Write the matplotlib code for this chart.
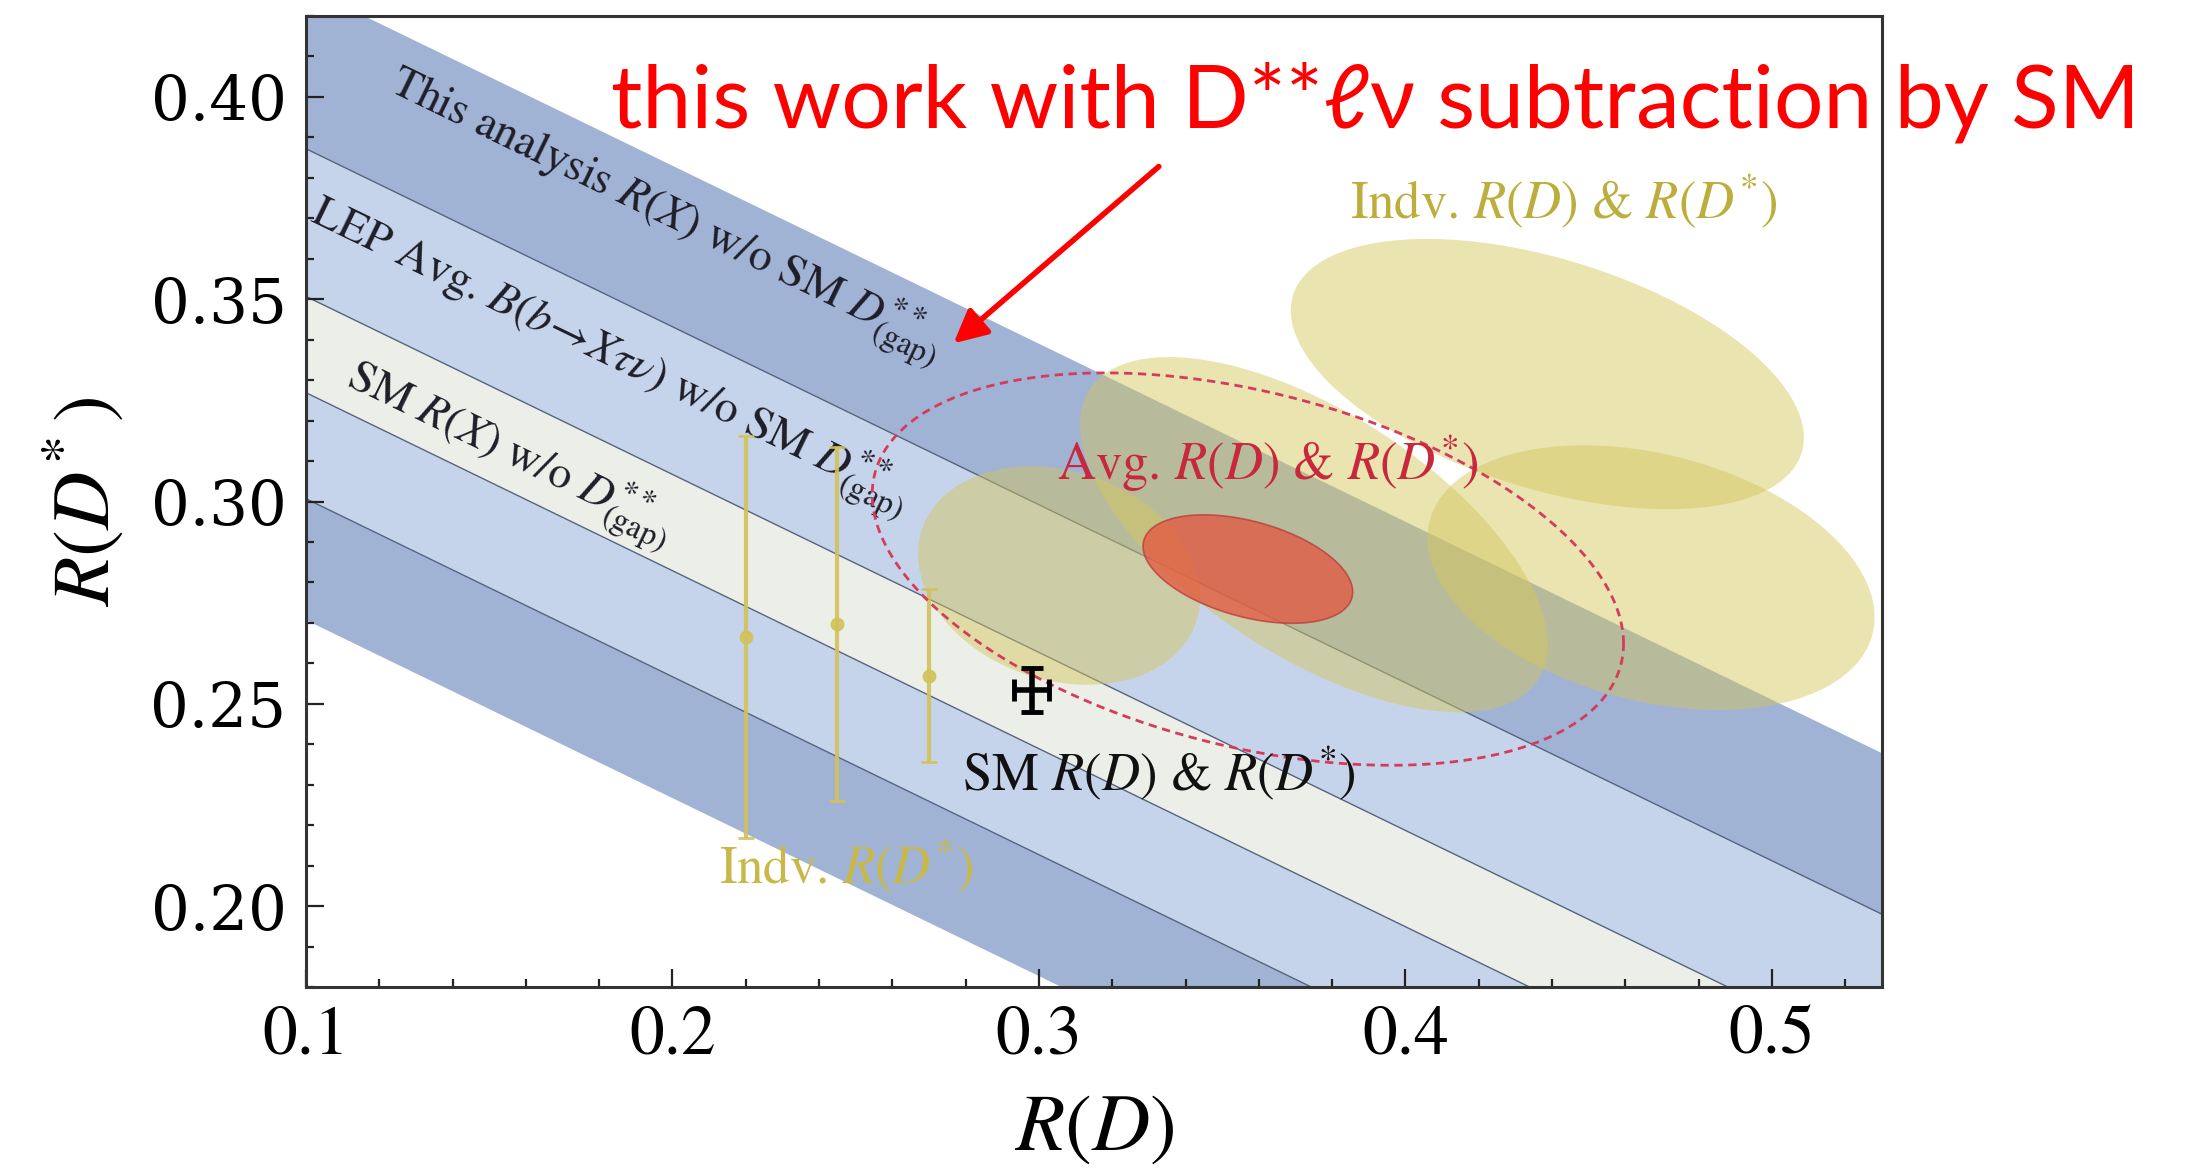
import numpy as np
import matplotlib
matplotlib.use('Agg')
import matplotlib.pyplot as plt
from matplotlib.ticker import MultipleLocator

plt.rcParams['font.family'] = 'STIXGeneral'
plt.rcParams['mathtext.fontset'] = 'stix'

# bands of constant R(X): R(D*) = lo/hi + slope*(R(D) - 0.1)
band_slope = -0.44
band_ref_rd = 0.1
this_analysis_band = (0.2707, 0.427)
lep_band = (0.3007, 0.3872)
sm_rx_band = (0.3269, 0.3507)

# individual R(D*) measurements
indv_rd = [0.220, 0.245, 0.270]
indv_rdst = [0.2666, 0.2697, 0.2569]
indv_rdst_err = [0.0497, 0.0438, 0.0214]

# SM prediction
sm_rd, sm_rd_err = 0.298, 0.0048
sm_rdst, sm_rdst_err = 0.2534, 0.0054

# individual R(D)-R(D*) ellipses: centre, half widths, correlation
indv_ell_rd = [0.3055, 0.375, 0.4387, 0.467]
indv_ell_rdst = [0.2817, 0.2918, 0.3315, 0.2812]
indv_ell_srd = [0.0385, 0.0638, 0.070, 0.061]
indv_ell_srdst = [0.0270, 0.0439, 0.0334, 0.0327]
indv_ell_rho = [-0.2, -0.62, -0.47, -0.3]

# world average
avg_rd, avg_rdst = 0.357, 0.2833
avg_inner = (0.0286, 0.0134, -0.42)
avg_outer = (0.1025, 0.0485, -0.38)

xticks = [0.1, 0.2, 0.3, 0.4, 0.5]
yticks = [0.20, 0.25, 0.30, 0.35, 0.40]


def ellipse_xy(cx, cy, sx, sy, rho, n=300):
    t = np.linspace(0, 2 * np.pi, n)
    x = cx + sx * np.cos(t)
    y = cy + sy * (rho * np.cos(t) + np.sqrt(1 - rho**2) * np.sin(t))
    return x, y


def band_line(x, c):
    return c + band_slope * (x - band_ref_rd)


fig = plt.figure(figsize=(21.87, 11.70), dpi=100)
ax = fig.add_axes([0.1399, 0.1564, 0.7206, 0.8299])
ax.set_xlim(0.1, 0.53)
ax.set_ylim(0.18, 0.42)

xs = np.array([0.05, 0.6])
c_dark, c_light, c_cream = '#a1b3d5', '#c6d4eb', '#eceee8'
ax.fill_between(xs, band_line(xs, this_analysis_band[0]), band_line(xs, this_analysis_band[1]),
                color=c_dark, lw=0, zorder=1)
ax.fill_between(xs, band_line(xs, lep_band[0]), band_line(xs, lep_band[1]),
                color=c_light, lw=0, zorder=1)
ax.fill_between(xs, band_line(xs, sm_rx_band[0]), band_line(xs, sm_rx_band[1]),
                color=c_cream, lw=0, zorder=1)
for c in [lep_band[0], lep_band[1], sm_rx_band[0], sm_rx_band[1]]:
    ax.plot(xs, band_line(xs, c), color='#56647e', lw=1.0, zorder=1.5)

# angle of the bands on screen
p0 = ax.transData.transform((0.2, band_line(0.2, 0.3)))
p1 = ax.transData.transform((0.3, band_line(0.3, 0.3)))
ang = np.degrees(np.arctan2(p1[1] - p0[1], p1[0] - p0[0]))

lab_kw = dict(rotation=ang, rotation_mode='anchor', ha='left', va='baseline',
              fontsize=33, color='#1e1e28', zorder=2)
ax.text(0.1222, 0.4016, r'This analysis $R(X)$ w/o SM $D^{**}_{\rm (gap)}$', **lab_kw)
ax.text(0.1006, 0.3693, r'LEP Avg. $B(b\!\rightarrow\! X\tau\nu)$ w/o SM $D^{**}_{\rm (gap)}$', **lab_kw)
ax.text(0.1104, 0.3288, r'SM $R(X)$ w/o $D^{**}_{\rm (gap)}$', **lab_kw)

# individual 2D measurements
yel = '#d4c65a'
for cx, cy, sx, sy, r in zip(indv_ell_rd, indv_ell_rdst, indv_ell_srd, indv_ell_srdst, indv_ell_rho):
    ex, ey = ellipse_xy(cx, cy, sx, sy, r)
    ax.fill(ex, ey, color=yel, alpha=0.47, lw=0, zorder=3)

# individual R(D*) only
ax.errorbar(indv_rd, indv_rdst, yerr=indv_rdst_err, fmt='o', color='#d2c25a', ms=9,
            elinewidth=3, capsize=6, capthick=2, alpha=0.9, zorder=3.5)

# average
ex, ey = ellipse_xy(avg_rd, avg_rdst, *avg_inner)
ax.fill(ex, ey, facecolor='#e4553f', edgecolor='#b8393b', alpha=0.75, lw=1.2, zorder=4)
ex, ey = ellipse_xy(avg_rd, avg_rdst, *avg_outer)
ax.plot(ex, ey, color='#d43c5c', lw=2, ls=(0, (3, 2)), zorder=4)

# SM point
ax.errorbar([sm_rd], [sm_rdst], xerr=[sm_rd_err], yerr=[sm_rdst_err], fmt='none',
            ecolor='k', elinewidth=4, capsize=8, capthick=3.5, zorder=5)

ax.text(0.3327, 0.2328, r'SM $R(D)$ & $R(D^{*})$', fontsize=38, ha='center', va='center',
        color='#111111', zorder=6)
ax.text(0.3625, 0.3095, r'Avg. $R(D)$ & $R(D^{*})$', fontsize=38, ha='center', va='center',
        color='#c8283c', zorder=6)
ax.text(0.4431, 0.3742, r'Indv. $R(D)$ & $R(D^{*})$', fontsize=38, ha='center', va='center',
        color='#bcae3c', zorder=6)
ax.text(0.2475, 0.2098, r'Indv. $R(D^{*})$', fontsize=38, ha='center', va='center',
        color='#c8b848', zorder=6)

# axes styling
ax.set_xticks(xticks)
ax.set_xticklabels(['%.1f' % v for v in xticks], fontsize=50)
ax.set_yticks(yticks)
ax.set_yticklabels(['%.2f' % v for v in yticks], fontsize=44, family='DejaVu Serif')
ax.xaxis.set_minor_locator(MultipleLocator(0.02))
ax.yaxis.set_minor_locator(MultipleLocator(0.01))
ax.tick_params(which='both', direction='in', top=False, right=False, width=1.6, color='#222222')
ax.tick_params(which='major', length=13)
ax.tick_params(which='minor', length=6)
ax.tick_params(axis='x', pad=14)
ax.tick_params(axis='y', pad=14)
for s in ax.spines.values():
    s.set_linewidth(2.2)
    s.set_color('#333333')
    s.set_zorder(7)

ax.set_xlabel(r'$R(D)$', fontsize=58)
ax.xaxis.set_label_coords(0.5, -0.111)
ax.set_ylabel(r'$R(D^{*}\,)$', fontsize=58)
ax.yaxis.set_label_coords(-0.114, 0.5)

# annotation
fig.text(0.2794, 0.8906, 'this work with D**ℓν subtraction by SM', color='#ff0000',
         fontsize=63, family=['Lato', 'Noto Sans', 'DejaVu Sans'], va='baseline', zorder=10)
ax.annotate('', xy=(0.2767, 0.3391), xytext=(0.3327, 0.3828),
            arrowprops=dict(arrowstyle='-|>', color='#ff0000', lw=4, mutation_scale=50,
                            shrinkA=0, shrinkB=0), zorder=10)

fig.savefig('out.png', dpi=100)
